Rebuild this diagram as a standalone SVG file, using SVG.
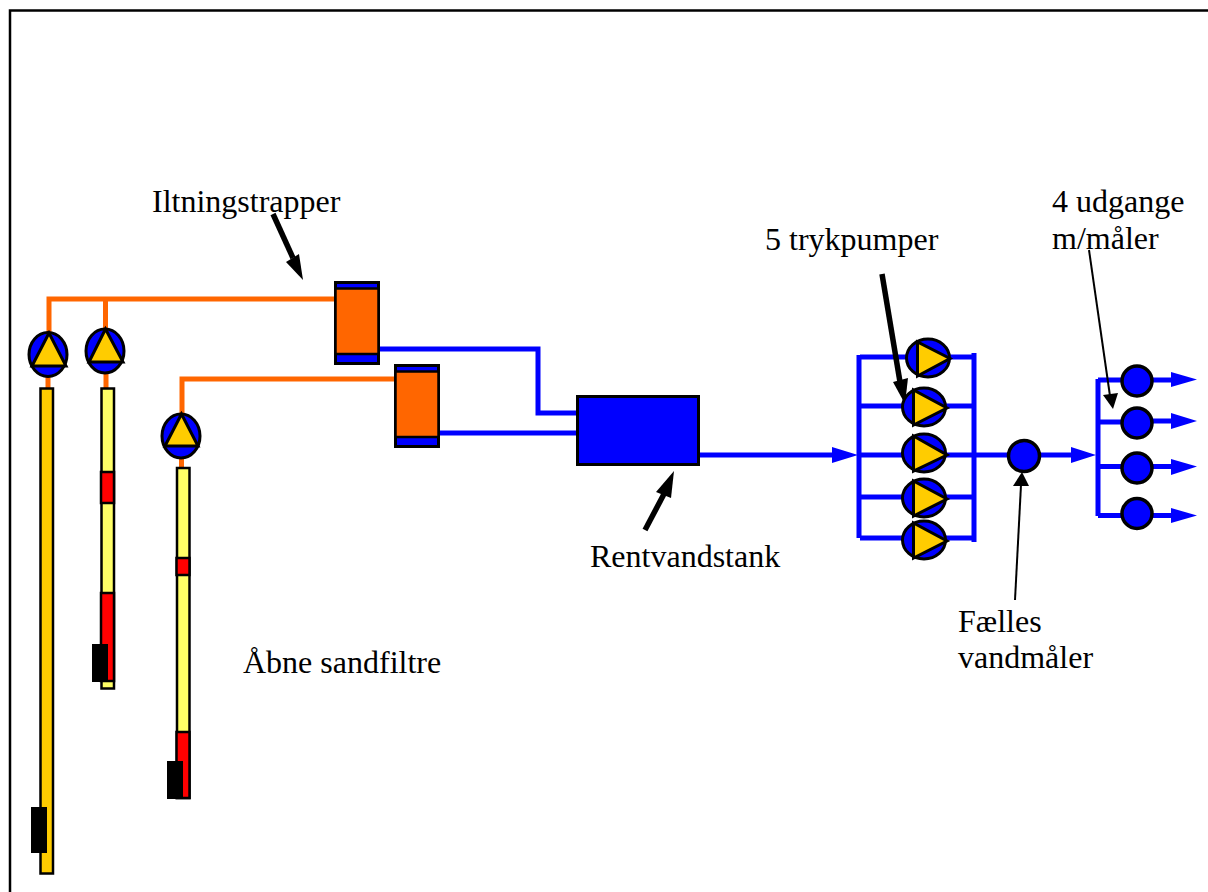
<svg xmlns="http://www.w3.org/2000/svg" width="1208" height="892" viewBox="0 0 1208 892">
<style>
text{font-family:"Liberation Serif","Times New Roman",serif;font-size:32px;fill:#000}
.o{fill:none;stroke:#FF6600;stroke-width:5}
.b{fill:none;stroke:#0000FF;stroke-width:5}
.k{stroke:#000;stroke-width:2.5}
.pc{fill:#0000FF;stroke:#000;stroke-width:3}
.mc{fill:#0000FF;stroke:#000;stroke-width:3.500}
.pt{fill:#FFCC00;stroke:#000;stroke-width:3;stroke-linejoin:miter}
.ah{fill:#0000FF}
.kh{fill:#000}
</style>
<rect width="1208" height="892" fill="#fff"/>
<path d="M10 892V10.500H1208" fill="none" stroke="#000" stroke-width="2.500"/>
<g id="connectors">
<path class="o" d="M49 332V299H335M105.500 299V328M48 377V388M106 374V388"/>
<path class="o" d="M182 413V379H395M181.500 458V467"/>
<path class="b" d="M379 349H538V413H577M439 433H577"/>
<path class="b" d="M699 455H835"/>
<polygon class="ah" points="832,447 858,455 832,463"/>
<path class="b" d="M859 355V538M860 357H974M860 406H974M859 455H974M860 497H974M860 538H974M974 353V542"/>
<path class="b" d="M974 455H1075"/>
<polygon class="ah" points="1071,447 1096,455 1071,463"/>
<path class="b" d="M1098 379V516M1098 380H1137M1098 422H1137M1098 466.500H1137M1098 515.500H1137"/>
<path class="b" d="M1137 380H1175M1137 421H1175M1137 466.500H1175M1137 515.500H1175"/>
<polygon class="ah" points="1171,372 1197,379.500 1171,387"/>
<polygon class="ah" points="1171,413 1197,421 1171,429"/>
<polygon class="ah" points="1171,459 1197,466.500 1171,475"/>
<polygon class="ah" points="1171,508 1197,515.500 1171,523"/>
<path d="M273 214L293 258" fill="none" stroke="#000" stroke-width="5.500"/>
<polygon class="kh" points="286,262 303,280 299,254"/>
<path d="M882 274L900 382" fill="none" stroke="#000" stroke-width="5.500"/>
<polygon class="kh" points="893,382 908,378 905,404"/>
<path d="M645 530L664 494" fill="none" stroke="#000" stroke-width="5.500"/>
<polygon class="kh" points="656,492 674,471 671,498"/>
<path d="M1015 600L1021 485" stroke="#000" stroke-width="2" fill="none"/>
<polygon class="kh" points="1013,486 1029,486 1022,472"/>
<path d="M1089 250L1110 396" stroke="#000" stroke-width="2" fill="none"/>
<polygon class="kh" points="1103,395 1118,393 1113,409"/>
</g>
<g id="filter1"><rect x="40.500" y="388.500" width="12.500" height="485" fill="#FFCC00" class="k"/><rect x="31" y="807" width="16" height="46" fill="#000"/></g>
<g id="filter2"><rect x="101.500" y="388.500" width="12.500" height="300" fill="#FFFF66" class="k"/><rect x="101" y="472" width="13" height="31" fill="#FF0000" class="k"/><rect x="101" y="593" width="13" height="88" fill="#FF0000" class="k"/><rect x="92" y="644" width="16" height="38" fill="#000"/></g>
<g id="filter3"><rect x="177" y="468" width="12.500" height="330" fill="#FFFF66" class="k"/><rect x="176.500" y="558" width="13" height="17" fill="#FF0000" class="k"/><rect x="176.500" y="732" width="13" height="66" fill="#FF0000" class="k"/><rect x="167" y="761" width="16" height="38" fill="#000"/></g>
<g id="pump1"><ellipse class="pc" cx="48" cy="354.500" rx="19" ry="22"/><polygon class="pt" points="49,333 32,366 66,366"/></g>
<g id="pump2"><ellipse class="pc" cx="105" cy="351" rx="19" ry="22"/><polygon class="pt" points="105.500,329 89,362 123,362"/></g>
<g id="pump3"><ellipse class="pc" cx="181" cy="436" rx="19" ry="22"/><polygon class="pt" points="181.500,414 165,446 198,446"/></g>
<g id="tank1"><rect x="335.500" y="282.500" width="43" height="81" fill="#0000FF" stroke="#000" stroke-width="3"/><rect x="335.500" y="288.500" width="43" height="65.500" fill="#FF6600" stroke="#000" stroke-width="2.500"/></g>
<g id="tank2"><rect x="395.500" y="365.500" width="43" height="81" fill="#0000FF" stroke="#000" stroke-width="3"/><rect x="395.500" y="371.500" width="43" height="65.500" fill="#FF6600" stroke="#000" stroke-width="2.500"/></g>
<g id="rentvandstank"><rect x="577.500" y="396.500" width="121" height="68" fill="#0000FF" stroke="#000" stroke-width="3"/></g>
<g id="pressure-pump1"><ellipse class="pc" cx="928" cy="358" rx="21.500" ry="19"/><polygon class="pt" points="917.500,342 917.500,376 950,358.500"/></g>
<g id="pressure-pump2"><ellipse class="pc" cx="924" cy="407" rx="21.500" ry="19"/><polygon class="pt" points="913.500,390 913.500,425 947,408"/></g>
<g id="pressure-pump3"><ellipse class="pc" cx="924" cy="453" rx="21.500" ry="19"/><polygon class="pt" points="913.500,436 913.500,471 947,455"/></g>
<g id="pressure-pump4"><ellipse class="pc" cx="924" cy="498" rx="21.500" ry="19"/><polygon class="pt" points="913.500,481 913.500,516 947,499"/></g>
<g id="pressure-pump5"><ellipse class="pc" cx="924" cy="540" rx="21.500" ry="19"/><polygon class="pt" points="913.500,523 913.500,558 947,541"/></g>
<g id="common-meter"><circle class="mc" cx="1024" cy="456" r="15.500"/></g>
<g id="outlet1"><circle class="mc" cx="1137" cy="381" r="15"/></g>
<g id="outlet2"><circle class="mc" cx="1137" cy="423" r="15"/></g>
<g id="outlet3"><circle class="mc" cx="1137" cy="468" r="15"/></g>
<g id="outlet4"><circle class="mc" cx="1137" cy="513.500" r="15"/></g>
<g id="labels">
<text x="152" y="212">Iltningstrapper</text>
<text x="765" y="250">5 trykpumper</text>
<text x="1052" y="212">4 udgange</text>
<text x="1052" y="249">m/måler</text>
<text x="590" y="567">Rentvandstank</text>
<text x="958" y="632">Fælles</text>
<text x="958" y="668">vandmåler</text>
<text x="243" y="673">Åbne sandfiltre</text>
</g>
</svg>
